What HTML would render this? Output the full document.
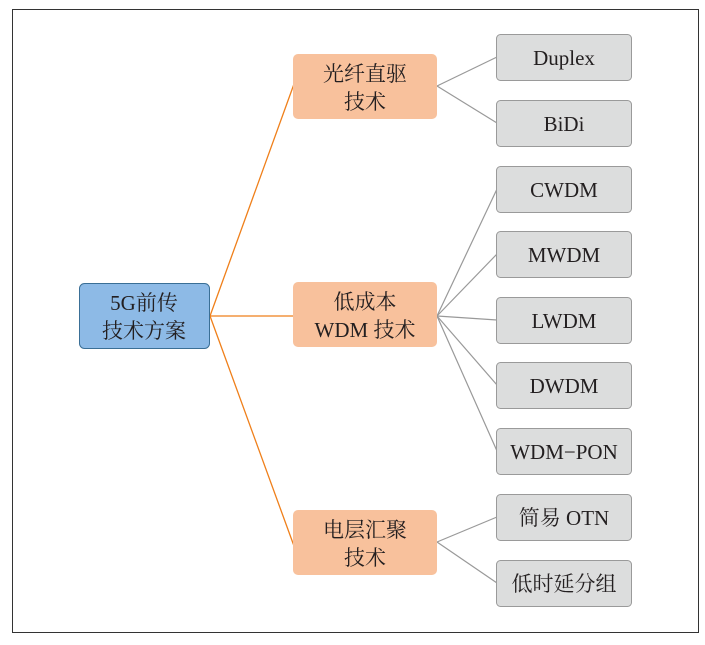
<!DOCTYPE html>
<html><head><meta charset="utf-8"><style>
html,body{margin:0;padding:0;background:#fff;}
svg{display:block;}
text{font-family:"Liberation Serif","Noto Serif CJK SC",serif;font-size:21px;fill:#231f20;}
</style></head><body>
<svg width="705" height="645" viewBox="0 0 705 645">
<rect x="12.5" y="9.5" width="686" height="623" fill="#fff" stroke="#333" stroke-width="1"/>
<g stroke="#ef7f1a" stroke-width="1.3" fill="none">
<line x1="210" y1="316" x2="294" y2="84"/>
<line x1="210" y1="316" x2="294" y2="316"/>
<line x1="210" y1="316" x2="294" y2="546"/>
</g>
<g stroke="#999" stroke-width="1.2" fill="none">
<line x1="437" y1="86" x2="497" y2="57"/>
<line x1="437" y1="86" x2="497" y2="123"/>
<line x1="437" y1="316" x2="497" y2="189"/>
<line x1="437" y1="316" x2="497" y2="254"/>
<line x1="437" y1="316" x2="497" y2="320"/>
<line x1="437" y1="316" x2="497" y2="385"/>
<line x1="437" y1="316" x2="497" y2="451"/>
<line x1="437" y1="542" x2="497" y2="517"/>
<line x1="437" y1="542" x2="497" y2="583"/>
</g>
<rect x="79.5" y="283.5" width="130" height="65" rx="5" fill="#8dbae6" stroke="#3a6f96" stroke-width="1"/>
<text x="144" y="310" text-anchor="middle">5G前传</text>
<text x="144" y="338" text-anchor="middle">技术方案</text>
<g fill="#f8c19c">
<rect x="293" y="54" width="144" height="65" rx="5"/>
<rect x="293" y="282" width="144" height="65" rx="5"/>
<rect x="293" y="510" width="144" height="65" rx="5"/>
</g>
<text x="365" y="81" text-anchor="middle">光纤直驱</text>
<text x="365" y="109" text-anchor="middle">技术</text>
<text x="365" y="309" text-anchor="middle">低成本</text>
<text x="365" y="337" text-anchor="middle">WDM 技术</text>
<text x="365" y="537" text-anchor="middle">电层汇聚</text>
<text x="365" y="565" text-anchor="middle">技术</text>
<g fill="#dcdddd" stroke="#9a9a9a" stroke-width="1">
<rect x="496.5" y="34.5" width="135" height="46" rx="4"/>
<rect x="496.5" y="100.5" width="135" height="46" rx="4"/>
<rect x="496.5" y="166.5" width="135" height="46" rx="4"/>
<rect x="496.5" y="231.5" width="135" height="46" rx="4"/>
<rect x="496.5" y="297.5" width="135" height="46" rx="4"/>
<rect x="496.5" y="362.5" width="135" height="46" rx="4"/>
<rect x="496.5" y="428.5" width="135" height="46" rx="4"/>
<rect x="496.5" y="494.5" width="135" height="46" rx="4"/>
<rect x="496.5" y="560.5" width="135" height="46" rx="4"/>
</g>
<g text-anchor="middle">
<text x="564" y="65">Duplex</text>
<text x="564" y="131">BiDi</text>
<text x="564" y="197">CWDM</text>
<text x="564" y="262">MWDM</text>
<text x="564" y="328">LWDM</text>
<text x="564" y="393">DWDM</text>
<text x="564" y="459">WDM−PON</text>
<text x="564" y="525">简易 OTN</text>
<text x="564" y="591">低时延分组</text>
</g>
</svg>
</body></html>
